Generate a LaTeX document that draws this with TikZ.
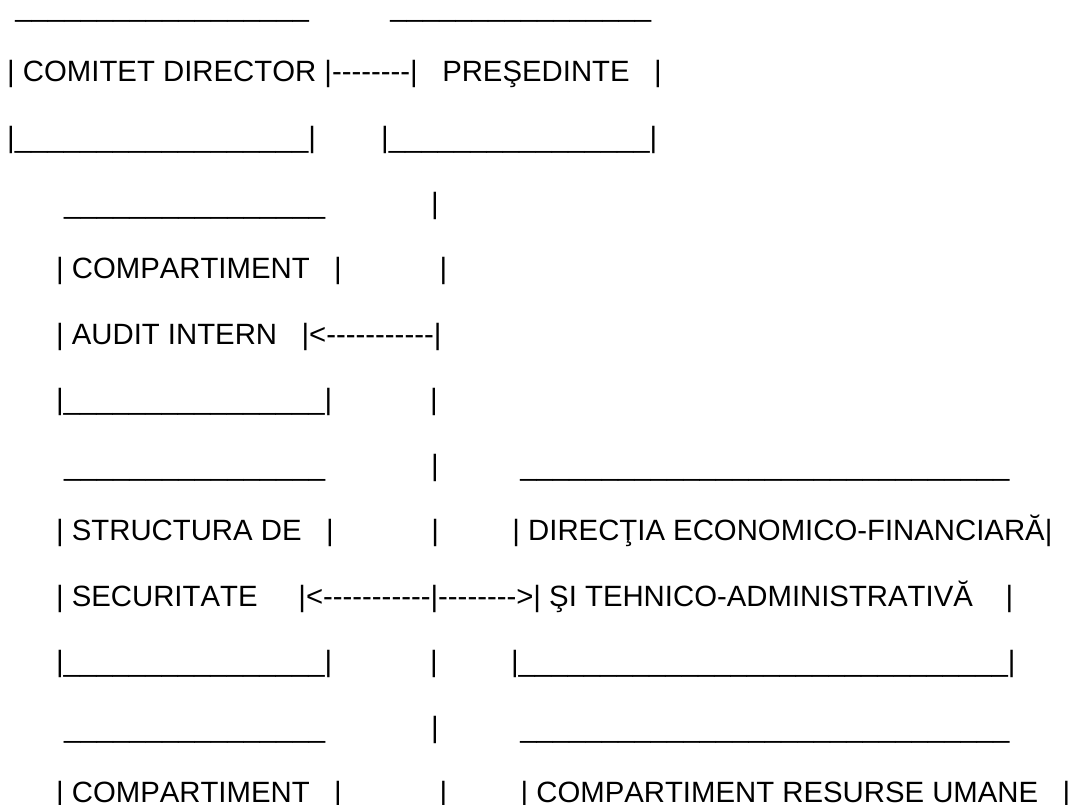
\documentclass[tikz,border=0pt]{standalone}
\usepackage{fontspec}
\newfontfamily\artfont{Liberation Sans}[Kerning=Off]
\newcommand\ascgap[1]{\foreach \k in {1,...,#1}{\ }}
\newcommand\ascus[1]{\foreach \k in {1,...,#1}{\_}}
\newcommand\ascdash[1]{\foreach \k in {1,...,#1}{-}}
\tikzset{artline/.style={anchor=base west, inner sep=0pt, font=\artfont\fontsize{29.33}{30}\selectfont}}
\begin{document}
\begin{tikzpicture}[x=1pt,y=-1pt]
             \fill[white] (0,0) rectangle (1070,805);
             \useasboundingbox (0,0) rectangle (1070,805);
             \node[artline] (top) at (7,16.5) {\ascgap{1}\ascus{18}\ascgap{10}\ascus{16}};
             \node[artline] (comitet) at (7,82) {| COMITET DIRECTOR |\ascdash{8}|\ascgap{3}PREŞEDINTE\ascgap{3}|};
             \node[artline] (comitet bottom) at (7,147.5) {|\ascus{18}|\ascgap{8}|\ascus{16}|};
             \node[artline] (audit top) at (7,213) {\ascgap{7}\ascus{16}\ascgap{13}|};
             \node[artline] (audit) at (7,278.5) {\ascgap{6}| COMPARTIMENT\ascgap{3}|\ascgap{12}|};
             \node[artline] (audit intern) at (7,344) {\ascgap{6}| AUDIT INTERN\ascgap{3}|<\ascdash{11}|};
             \node[artline] (audit bottom) at (7,409.5) {\ascgap{6}|\ascus{16}|\ascgap{12}|};
             \node[artline] (securitate top) at (7,475) {\ascgap{7}\ascus{16}\ascgap{13}|\ascgap{10}\ascus{30}};
             \node[artline] (structura) at (7,540.5) {\ascgap{6}| STRUCTURA DE\ascgap{3}|\ascgap{12}|\ascgap{9}| DIRECŢIA ECONOMICO-FINANCIARĂ|};
             \node[artline] (securitate) at (7,606) {\ascgap{6}| SECURITATE\ascgap{5}|<\ascdash{11}|\ascdash{8}>| ŞI TEHNICO-ADMINISTRATIVĂ\ascgap{4}|};
             \node[artline] (securitate bottom) at (7,671.5) {\ascgap{6}|\ascus{16}|\ascgap{12}|\ascgap{9}|\ascus{30}|};
             \node[artline] (compartiment top) at (7,737) {\ascgap{7}\ascus{16}\ascgap{13}|\ascgap{10}\ascus{30}};
             \node[artline] (compartiment) at (7,802.5) {\ascgap{6}| COMPARTIMENT\ascgap{3}|\ascgap{12}|\ascgap{9}| COMPARTIMENT RESURSE UMANE\ascgap{3}|};

         \end{tikzpicture}
\end{document}
